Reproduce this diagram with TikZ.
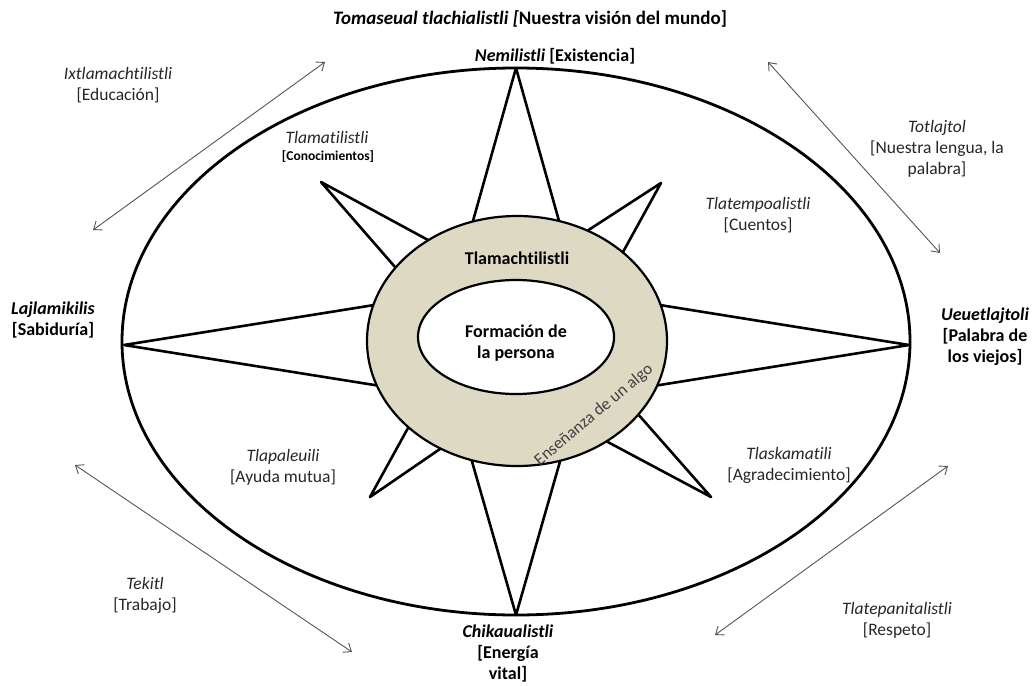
\documentclass[tikz,border=0pt]{standalone}
\usepackage{fontspec}
\setmainfont[Ligatures=NoCommon]{Carlito}
\usetikzlibrary{calc,arrows.meta,shapes.geometric}
\definecolor{ringtan}{HTML}{DDD9C3}
\definecolor{txtgray}{HTML}{262626}
\definecolor{arrgray}{HTML}{555555}
\begin{document}
\begin{tikzpicture}[x=1pt,y=-1pt,
  lbl/.style={font=\fontsize{17.5}{21}\selectfont, text=txtgray, align=center, inner sep=0pt},
  blbl/.style={font=\fontsize{18}{21}\selectfont\bfseries, text=black, align=center, inner sep=0pt},
  ttl/.style={font=\fontsize{19}{22}\selectfont\bfseries, text=black, inner sep=0pt},
  spike/.style={line width=2.6pt, line join=round, line cap=round},
  arr/.style={draw=arrgray, line width=0.9pt, {Straight Barb[length=7pt,width=11pt]}-{Straight Barb[length=7pt,width=11pt]}},
  ell/.style={ellipse, draw, inner sep=0pt, outer sep=0pt}
]
\useasboundingbox (0,0) rectangle (1035,685);

% outer ellipse
\node[ell, line width=2.8pt, minimum width=788pt, minimum height=547pt] (outer) at (516,341.5) {};

% star spikes
\coordinate (tT) at (516,68);   \coordinate (tT1) at (471,228); \coordinate (tT2) at (561,228);
\coordinate (tB) at (516,615);  \coordinate (tB1) at (471,458); \coordinate (tB2) at (561,458);
\coordinate (tL) at (124,345);  \coordinate (tL1) at (368,306); \coordinate (tL2) at (368,384);
\coordinate (tR) at (909,345);  \coordinate (tR1) at (666,306); \coordinate (tR2) at (666,384);
\coordinate (tUL) at (321,182); \coordinate (tUL1) at (428,240); \coordinate (tUL2) at (395,267);
\coordinate (tUR) at (661,183); \coordinate (tUR1) at (587,231); \coordinate (tUR2) at (623,252);
\coordinate (tLL) at (370,497); \coordinate (tLL1) at (408,428); \coordinate (tLL2) at (440,449);
\coordinate (tLR) at (711,497); \coordinate (tLR1) at (604,440); \coordinate (tLR2) at (637,413);
\foreach \s in {T,B,L,R,UL,UR,LL,LR}{
  \draw[spike] ($(t\s)!1.3!(t\s1)$) -- (t\s) -- ($(t\s)!1.3!(t\s2)$);
}

% ring and centre
\node[ell, fill=ringtan, line width=2.2pt, minimum width=300pt, minimum height=250pt] (ring) at (517,341) {};
\node[ell, fill=white, line width=2.2pt, minimum width=196pt, minimum height=114pt] (inner) at (516,337) {};

\node[blbl] (tlamach) at (517,258) {Tlamachtilistli};
\node[blbl] (formacion) at (516,343) {Formación de\\la persona};
\node[lbl, font=\fontsize{17}{20}\selectfont, text=black!75, rotate=40] (ensen) at (594,415) {Enseñanza de un algo};

% title and cardinal labels
\node[ttl] (title) at (530,19) {\textit{Tomaseual tlachialistli [}Nuestra visión del mundo]};
\node[blbl] (nemi) at (555,56) {\textit{Nemilistli} [Existencia]};
\node[blbl] (lajla) at (53,320) {\textit{Lajlamikilis}\\{[Sabiduría]}};
\node[blbl] (ueue) at (985,337) {\textit{Ueuetlajtoli}\\{[Palabra de}\\los viejos]};
\node[blbl] (chika) at (508,654) {\textit{Chikaualistli}\\{[Energía}\\vital]};

% inner labels
\node[lbl] (tlamati) at (327,137) {\textit{Tlamatilistli}};
\node[font=\fontsize{13.5}{16}\selectfont\bfseries, inner sep=0pt] (conoc) at (328,157) {[Conocimientos]};
\node[lbl] (tlatem) at (758,215) {\textit{Tlatempoalistli}\\{[Cuentos]}};
\node[lbl] (tlapa) at (283,467) {\textit{Tlapaleuili}\\{[Ayuda mutua]}};
\node[lbl] (tlaska) at (789,465) {\textit{Tlaskamatili}\\{[Agradecimiento]}};

% outer labels
\node[lbl] (ixtla) at (118,85) {\textit{Ixtlamachtilistli}\\{[Educación]}};
\node[lbl] (totla) at (937,149) {\textit{Totlajtol}\\{[Nuestra lengua, la}\\palabra]};
\node[lbl] (tekitl) at (145,595) {\textit{Tekitl}\\{[Trabajo]}};
\node[lbl] (tlatep) at (897,620) {\textit{Tlatepanitalistli}\\{[Respeto]}};

% double arrows
\coordinate (a1s) at (93,230);  \coordinate (a1e) at (325,62);
\coordinate (a2s) at (768,62);  \coordinate (a2e) at (940,253);
\coordinate (a3s) at (75,465);  \coordinate (a3e) at (352,652);
\coordinate (a4s) at (948,466); \coordinate (a4e) at (715,635);
\draw[arr] (a1s) -- (a1e);
\draw[arr] (a2s) -- (a2e);
\draw[arr] (a3s) -- (a3e);
\draw[arr] (a4s) -- (a4e);
\end{tikzpicture}
\end{document}
